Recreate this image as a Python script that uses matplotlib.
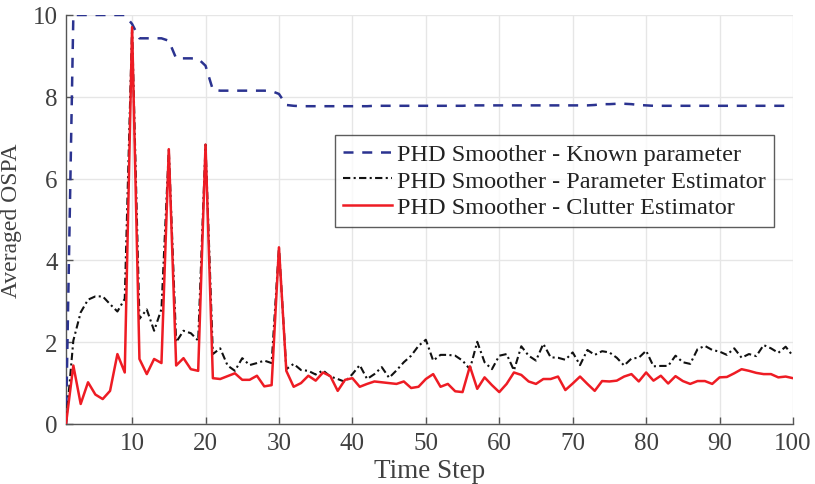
import matplotlib
matplotlib.use("Agg")
import matplotlib.pyplot as plt
import numpy as np

# time steps 1..100
steps = np.arange(1, 101)

# PHD Smoother - Known parameter (blue dashed)
known = [0.0, 10.0, 10.0, 10.0, 10.0, 10.0, 10.0, 10.0, 10.0, 9.78,
         9.43, 9.43, 9.43, 9.43, 9.37, 8.94, 8.94, 8.94, 8.93, 8.76,
         8.17, 8.15, 8.15, 8.15, 8.15, 8.15, 8.15, 8.15, 8.14, 8.07,
         7.80, 7.78, 7.77, 7.77, 7.77, 7.77, 7.77, 7.77, 7.77, 7.77,
         7.77, 7.77, 7.78, 7.78, 7.78, 7.78, 7.78, 7.78, 7.78, 7.78,
         7.78, 7.78, 7.78, 7.78, 7.78, 7.79, 7.79, 7.79, 7.79, 7.79,
         7.79, 7.79, 7.79, 7.79, 7.79, 7.79, 7.79, 7.79, 7.79, 7.79,
         7.79, 7.79, 7.80, 7.82, 7.82, 7.83, 7.83, 7.82, 7.80, 7.79,
         7.78, 7.78, 7.78, 7.78, 7.78, 7.78, 7.78, 7.78, 7.78, 7.78,
         7.78, 7.78, 7.78, 7.78, 7.78, 7.78, 7.78, 7.78, 7.78, 7.78]

# PHD Smoother - Parameter Estimator (black dash-dot)
param_est = [0.0, 2.04, 2.73, 3.04, 3.12, 3.12, 2.93, 2.75, 3.06, 9.70,
             2.57, 2.80, 2.28, 2.81, 6.72, 2.00, 2.28, 2.22, 2.04, 6.83,
             1.71, 1.85, 1.43, 1.30, 1.61, 1.44, 1.49, 1.55, 1.49, 4.32,
             1.34, 1.47, 1.32, 1.30, 1.21, 1.31, 1.16, 1.10, 1.03, 1.22,
             1.44, 1.10, 1.22, 1.39, 1.13, 1.31, 1.51, 1.67, 1.91, 2.06,
             1.55, 1.69, 1.69, 1.67, 1.55, 1.34, 2.01, 1.51, 1.34, 1.67,
             1.71, 1.31, 1.90, 1.67, 1.55, 1.96, 1.63, 1.62, 1.57, 1.75,
             1.44, 1.81, 1.69, 1.78, 1.75, 1.62, 1.43, 1.60, 1.62, 1.79,
             1.41, 1.42, 1.42, 1.67, 1.51, 1.47, 1.83, 1.91, 1.81, 1.77,
             1.69, 1.85, 1.62, 1.71, 1.66, 1.93, 1.85, 1.74, 1.89, 1.66]

# PHD Smoother - Clutter Estimator (red solid)
clutter_est = [0.0, 1.43, 0.49, 1.02, 0.72, 0.61, 0.81, 1.71, 1.26, 9.70,
               1.59, 1.22, 1.59, 1.49, 6.72, 1.43, 1.61, 1.34, 1.30, 6.83,
               1.12, 1.10, 1.17, 1.24, 1.08, 1.08, 1.18, 0.92, 0.95, 4.32,
               1.30, 0.91, 1.00, 1.18, 1.06, 1.26, 1.17, 0.81, 1.08, 1.12,
               0.91, 0.98, 1.04, 1.02, 1.00, 0.98, 1.04, 0.88, 0.91, 1.10,
               1.22, 0.91, 0.98, 0.80, 0.78, 1.41, 0.86, 1.14, 0.95, 0.78,
               0.98, 1.26, 1.20, 1.04, 0.98, 1.10, 1.10, 1.16, 0.83, 0.99,
               1.16, 0.98, 0.81, 1.05, 1.04, 1.06, 1.16, 1.22, 1.04, 1.26,
               1.06, 1.18, 0.99, 1.17, 1.05, 0.98, 1.05, 1.05, 0.98, 1.14,
               1.15, 1.24, 1.34, 1.30, 1.25, 1.22, 1.22, 1.14, 1.16, 1.12]

plt.rcParams['font.family'] = ['Liberation Serif', 'DejaVu Serif']
txt_color = '#404040'

fig = plt.figure(figsize=(8.15, 4.85), dpi=100)
ax = fig.add_axes([66 / 815, 1 - 425 / 485, (793 - 66) / 815, (425 - 16) / 485])

ax.plot(steps, known, color='#2b3390', linestyle=(0, (4.0, 3.5)), linewidth=1.8,
        label='PHD Smoother - Known parameter', zorder=3)
ax.plot(steps, param_est, color='#111111', linestyle=(0, (3.5, 1.6, 1, 1.6)), linewidth=1.5,
        label='PHD Smoother - Parameter Estimator', zorder=4)
ax.plot(steps, clutter_est, color='#ee1c24', linestyle='-', linewidth=1.8,
        label='PHD Smoother - Clutter Estimator', zorder=5)

ax.set_xlim(1, 100)
ax.set_ylim(0, 10)
ax.set_xticks([10, 20, 30, 40, 50, 60, 70, 80, 90, 100])
ax.set_yticks([0, 2, 4, 6, 8, 10])
ax.grid(True, color='#e6e6e6', linewidth=1.0)
ax.set_axisbelow(True)

for s in ['top', 'right']:
    ax.spines[s].set_visible(False)
for s in ['left', 'bottom']:
    ax.spines[s].set_color('#555555')
    ax.spines[s].set_linewidth(1.0)

ax.tick_params(direction='in', length=5, width=1.0, colors='#555555',
               labelsize=18, labelcolor=txt_color, pad=6)

ax.set_xlabel('Time Step', fontsize=19.5, color=txt_color, labelpad=3)
ax.set_ylabel('Averaged OSPA', fontsize=17, color=txt_color, labelpad=8)

leg = ax.legend(loc='upper left', bbox_to_anchor=(0.370, 0.707), fontsize=17.5,
                frameon=True, fancybox=False, edgecolor='#333333',
                handlelength=2.0, handletextpad=0.2, borderpad=0.35,
                labelspacing=0.18, borderaxespad=0)
leg.get_frame().set_linewidth(1.0)
for t in leg.get_texts():
    t.set_color('#222222')

fig.savefig('out.png', dpi=100)
